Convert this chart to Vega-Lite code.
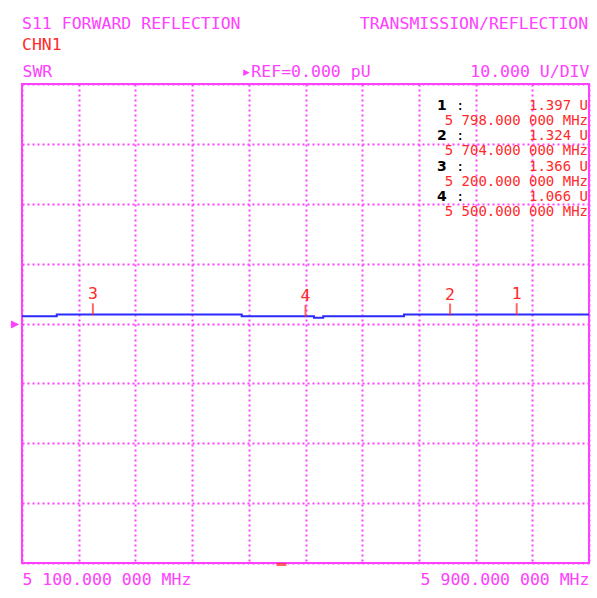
{
  "$schema": "https://vega.github.io/schema/vega-lite/v6.json",
  "width": 567,
  "height": 479,
  "autosize": {"type": "none"},
  "padding": {"left": 22, "top": 84, "right": 8, "bottom": 35},
  "background": "white",
  "title": {
    "text": "S11 FORWARD REFLECTION\u00a0\u00a0\u00a0\u00a0\u00a0\u00a0\u00a0\u00a0\u00a0\u00a0\u00a0\u00a0TRANSMISSION/REFLECTION",
    "subtitle": "CHN1",
    "anchor": "start",
    "frame": "group",
    "offset": 10,
    "font": "DejaVu Sans Mono",
    "fontSize": 16.5,
    "fontWeight": "normal",
    "color": "#ff40ff",
    "subtitleFont": "DejaVu Sans Mono",
    "subtitleFontSize": 16.5,
    "subtitleFontWeight": "normal",
    "subtitleColor": "#ff2a2a",
    "subtitlePadding": 4
  },
  "datasets": {
    "trace": [
      {"freq": 5100, "level": 1.22},
      {"freq": 5149, "level": 1.49},
      {"freq": 5410, "level": 1.22},
      {"freq": 5512, "level": 0.98},
      {"freq": 5525, "level": 1.22},
      {"freq": 5639, "level": 1.49},
      {"freq": 5900, "level": 1.49}
    ],
    "markers": [
      {"marker": "1", "freq": 5798, "amp": 1.397, "amp_label": "1.397 U", "freq_label": "5 798.000 000 MHz"},
      {"marker": "2", "freq": 5704, "amp": 1.324, "amp_label": "1.324 U", "freq_label": "5 704.000 000 MHz"},
      {"marker": "3", "freq": 5200, "amp": 1.366, "amp_label": "1.366 U", "freq_label": "5 200.000 000 MHz"},
      {"marker": "4", "freq": 5500, "amp": 1.066, "amp_label": "1.066 U", "freq_label": "5 500.000 000 MHz"}
    ],
    "cursor": [
      {"freq": 5466}
    ]
  },
  "layer": [
    {
      "data": {"name": "trace"},
      "mark": {"type": "line", "interpolate": "step-after", "color": "#2a2aff", "strokeWidth": 2},
      "encoding": {
        "x": {
          "field": "freq", "type": "quantitative",
          "scale": {"domain": [5100, 5900], "nice": false, "zero": false},
          "axis": {
            "title": null,
            "values": [5100, 5180, 5260, 5340, 5420, 5500, 5580, 5660, 5740, 5820, 5900],
            "labelExpr": "datum.value == 5100 ? '5 100.000 000 MHz' : datum.value == 5900 ? '5 900.000 000 MHz' : ''",
            "labelFlush": true,
            "labelOverlap": false,
            "labelPadding": 8,
            "grid": true
          }
        },
        "y": {
          "field": "level", "type": "quantitative",
          "scale": {"domain": [-40, 40], "nice": false, "zero": false},
          "axis": {"title": null, "values": [-40, -30, -20, -10, 0, 10, 20, 30, 40], "labelExpr": "datum.value == 0 ? '▸' : ''", "labelOverlap": false, "labelPadding": 1, "labelFontSize": 21, "grid": true}
        }
      }
    },
    {
      "data": {"name": "markers"},
      "mark": {"type": "tick", "orient": "vertical", "color": "#ff2a2a", "size": 12, "thickness": 2, "yOffset": -6},
      "encoding": {
        "x": {
          "field": "freq", "type": "quantitative",
          "scale": {"domain": [5100, 5900], "nice": false, "zero": false},
          "axis": {
            "orient": "top",
            "title": null,
            "values": [5100, 5500, 5900],
            "labelExpr": "datum.value == 5100 ? 'SWR' : datum.value == 5500 ? '▸REF=0.000 pU' : '10.000 U/DIV'",
            "labelFlush": true,
            "labelOverlap": false,
            "labelPadding": 5,
            "grid": false
          }
        },
        "y": {
          "field": "amp", "type": "quantitative",
          "scale": {"domain": [-40, 40], "nice": false, "zero": false},
          "axis": {"title": null, "values": [-40, -30, -20, -10, 0, 10, 20, 30, 40], "labelExpr": "datum.value == 0 ? '▸' : ''", "labelOverlap": false, "labelPadding": 1, "labelFontSize": 21, "grid": true}
        }
      }
    },
    {
      "data": {"name": "markers"},
      "mark": {"type": "text", "color": "#ff2a2a", "font": "DejaVu Sans Mono", "fontSize": 16.5, "baseline": "alphabetic", "align": "center", "dy": -16},
      "encoding": {
        "x": {"field": "freq", "type": "quantitative", "axis": null},
        "y": {"field": "amp", "type": "quantitative", "axis": {"title": null, "values": [-40, -30, -20, -10, 0, 10, 20, 30, 40], "labelExpr": "datum.value == 0 ? '▸' : ''", "labelOverlap": false, "labelPadding": 1, "labelFontSize": 21, "grid": true}},
        "text": {"field": "marker"}
      }
    },
    {
      "data": {"name": "cursor"},
      "mark": {"type": "tick", "orient": "horizontal", "color": "#ff2a2a", "size": 10, "thickness": 3, "yOffset": 1.5},
      "encoding": {
        "x": {"field": "freq", "type": "quantitative", "axis": null},
        "y": {"datum": -40, "type": "quantitative", "axis": {"title": null, "values": [-40, -30, -20, -10, 0, 10, 20, 30, 40], "labelExpr": "datum.value == 0 ? '▸' : ''", "labelOverlap": false, "labelPadding": 1, "labelFontSize": 21, "grid": true}}
      }
    },
    {
      "data": {"name": "markers"},
      "encoding": {
        "x": {"datum": 5900, "type": "quantitative", "axis": null},
        "y": {"datum": 40, "type": "quantitative", "axis": {"title": null, "values": [-40, -30, -20, -10, 0, 10, 20, 30, 40], "labelExpr": "datum.value == 0 ? '▸' : ''", "labelOverlap": false, "labelPadding": 1, "labelFontSize": 21, "grid": true}},
        "yOffset": {"field": "marker", "type": "ordinal", "scale": {"type": "point", "range": [25.5, 117], "padding": 0}}
      },
      "layer": [
        {
          "mark": {"type": "text", "align": "left", "baseline": "alphabetic", "dx": -152, "font": "DejaVu Sans", "fontSize": 14, "fontWeight": "bold", "color": "#000000"},
          "encoding": {"text": {"field": "marker"}}
        },
        {
          "mark": {"type": "text", "align": "left", "baseline": "alphabetic", "dx": -133, "font": "DejaVu Sans Mono", "fontSize": 14, "color": "#000000", "text": ":"}
        },
        {
          "mark": {"type": "text", "align": "right", "baseline": "alphabetic", "dx": -1, "font": "DejaVu Sans Mono", "fontSize": 14, "color": "#ff2a2a"},
          "encoding": {"text": {"field": "amp_label"}}
        },
        {
          "mark": {"type": "text", "align": "right", "baseline": "alphabetic", "dx": -1, "dy": 15, "font": "DejaVu Sans Mono", "fontSize": 14, "color": "#ff2a2a"},
          "encoding": {"text": {"field": "freq_label"}}
        }
      ]
    }
  ],
  "resolve": {"axis": {"x": "independent"}},
  "config": {
    "view": {"stroke": "#ff40ff", "strokeWidth": 2},
    "axis": {
      "labelFont": "DejaVu Sans Mono",
      "labelFontSize": 16.5,
      "labelColor": "#ff40ff",
      "ticks": false,
      "domain": false,
      "gridColor": "#ff40ff",
      "gridDash": [2, 3],
      "gridWidth": 2,
      "gridOpacity": 1
    }
  }
}
